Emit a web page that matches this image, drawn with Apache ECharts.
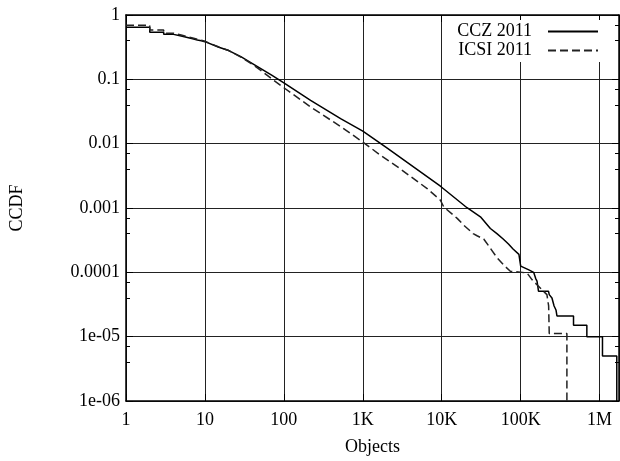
<!DOCTYPE html>
<html>
<head>
<meta charset="utf-8">
<script src="https://cdn.jsdelivr.net/npm/echarts@6/dist/echarts.min.js"></script>
<style>
  html, body { margin: 0; padding: 0; background: #fff; }
  #chart { width: 620px; height: 461px; }
</style>
</head>
<body>
<div id="chart"></div>
<script>
// tick labels (one per decade)
const xTickLabels = ["1", "10", "100", "1K", "10K", "100K", "1M"];
const yTickLabels = ["1e-06", "1e-05", "0.0001", "0.001", "0.01", "0.1", "1"];

// CCZ 2011 (solid), repeated x = vertical step
const cczObjects = [1, 2, 2, 3, 3, 4, 4, 5, 5, 6, 6, 7, 7, 8, 8, 9, 9, 10, 10,
  15, 20, 28.5, 40, 51, 70, 100, 218, 523, 1000, 2040, 9620, 20900, 30900, 41300, 50000, 60000, 70000,
  80000, 95000, 100000, 100000, 125000, 146000, 155000, 161000, 165000, 168000, 225000, 230000,
  249000, 265000, 280000, 288000, 467000, 467000, 689000, 689000, 1087000, 1087000, 1650000, 1650000];
const cczCcdf = [0.646, 0.646, 0.541, 0.541, 0.5, 0.5, 0.47, 0.47, 0.447, 0.447, 0.427, 0.427, 0.41, 0.41, 0.397, 0.397, 0.385, 0.385, 0.372,
  0.315, 0.28, 0.225, 0.176, 0.147, 0.116, 0.0884, 0.047, 0.0245, 0.0157, 0.0085, 0.00218, 0.00101, 0.00073, 0.00048, 0.0004, 0.00033, 0.000275,
  0.00023, 0.00019, 0.00018, 0.000125, 0.00011, 0.0001, 0.00008, 0.000073, 0.00006, 0.000051, 0.000051, 0.000045,
  0.00004, 0.00003, 0.000026, 0.000021, 0.000021, 0.000015, 0.000015, 0.00001, 0.00001, 0.000005, 0.000005, 0.0000001];

// ICSI 2011 (dashed)
const icsiObjects = [1, 2, 2, 3, 3, 4, 4, 5, 5, 6, 6, 7, 7, 8, 8, 9, 9, 10, 10,
  15, 20, 28.5, 40, 51, 70, 100, 218, 523, 1000, 1676, 2727, 6537, 9620, 10600, 15700, 19000, 25000,
  28000, 34000, 42000, 50000, 60800, 73900, 120000, 139000, 161000, 215000, 226000, 230000, 385000, 385000];
const icsiCcdf = [0.694, 0.694, 0.587, 0.587, 0.522, 0.522, 0.49, 0.49, 0.46, 0.46, 0.44, 0.44, 0.42, 0.42, 0.405, 0.405, 0.39, 0.39, 0.375,
  0.318, 0.28, 0.222, 0.17, 0.138, 0.102, 0.074, 0.0372, 0.0185, 0.0106, 0.0066, 0.0044, 0.002, 0.00132, 0.00104, 0.00069, 0.00054, 0.0004,
  0.00037, 0.00033, 0.00023, 0.00017, 0.00013, 0.000104, 0.000098, 0.000077, 0.000064, 0.000045, 0.00003, 0.0000112, 0.0000112, 0.0000001];

const font = "Liberation Serif";

function zip(xs, ys) {
  return xs.map((x, i) => [x, ys[i]]);
}

function decadeLabel(labels, offset) {
  return function (v) {
    const l = Math.log10(v);
    const r = Math.round(l);
    if (Math.abs(l - r) > 1e-6) return "";
    return labels[r + offset] || "";
  };
}

const chart = echarts.init(document.getElementById("chart"));

const xCommon = {
  type: "log",
  logBase: 10,
  min: 1,
  max: 1760000,
  interval: 1,
  axisLine: { lineStyle: { color: "#000", width: 1.5 } },
  axisTick: { inside: true, length: 7, lineStyle: { color: "#000" } },
};
const yCommon = {
  type: "log",
  logBase: 10,
  min: 0.000001,
  max: 1,
  interval: 1,
  axisLine: { show: true, lineStyle: { color: "#000", width: 1.5 } },
  axisTick: { show: true, inside: true, length: 7, lineStyle: { color: "#000" } },
  minorTick: { show: true, splitNumber: 3, length: 4, lineStyle: { color: "#000" } },
};

chart.setOption({
  animation: false,
  textStyle: { fontFamily: font },
  grid: { left: 125, right: 1, top: 15, bottom: 57, containLabel: false },
  legend: {
    orient: "vertical",
    right: 13,
    top: 20,
    align: "right",
    itemWidth: 50,
    itemHeight: 19,
    itemGap: 0,
    padding: [2, 8, 2, 8],
    backgroundColor: "#fff",
    itemStyle: { opacity: 0 },
    textStyle: { fontFamily: font, fontSize: 18, color: "#000", lineHeight: 19, padding: [0, 11, 0, 0] },
    data: ["CCZ 2011", "ICSI 2011"],
  },
  xAxis: [
    Object.assign({}, xCommon, {
      position: "bottom",
      name: "Objects",
      nameLocation: "middle",
      nameGap: 37,
      nameTextStyle: { fontFamily: font, fontSize: 18, color: "#000" },
      axisLabel: {
        fontFamily: font, fontSize: 18, color: "#000", margin: 10,
        showMaxLabel: false,
        formatter: decadeLabel(xTickLabels, 0),
      },
      splitLine: { show: true, lineStyle: { color: "#222", width: 1 } },
    }),
    Object.assign({}, xCommon, {
      position: "top",
      axisLabel: { show: false },
      splitLine: { show: false },
    }),
  ],
  yAxis: [
    Object.assign({}, yCommon, {
      position: "left",
      name: "CCDF",
      nameLocation: "middle",
      nameGap: 100,
      nameRotate: 90,
      nameTextStyle: { fontFamily: font, fontSize: 18, color: "#000" },
      axisLabel: {
        fontFamily: font, fontSize: 18, color: "#000", margin: 6,
        formatter: decadeLabel(yTickLabels, 6),
      },
      splitLine: { show: true, lineStyle: { color: "#222", width: 1 } },
    }),
    Object.assign({}, yCommon, {
      position: "right",
      axisLabel: { show: false },
      splitLine: { show: false },
    }),
  ],
  series: [
    {
      name: "CCZ 2011",
      type: "line",
      showSymbol: false,
      symbol: "none",
      clip: true,
      lineStyle: { color: "#000", width: 1.5, type: "solid" },
      itemStyle: { color: "#000" },
      data: zip(cczObjects, cczCcdf),
    },
    {
      name: "ICSI 2011",
      type: "line",
      showSymbol: false,
      symbol: "none",
      clip: true,
      lineStyle: { color: "#222", width: 1.5, type: [8, 4] },
      itemStyle: { color: "#222" },
      data: zip(icsiObjects, icsiCcdf),
    },
  ],
});
</script>
</body>
</html>
